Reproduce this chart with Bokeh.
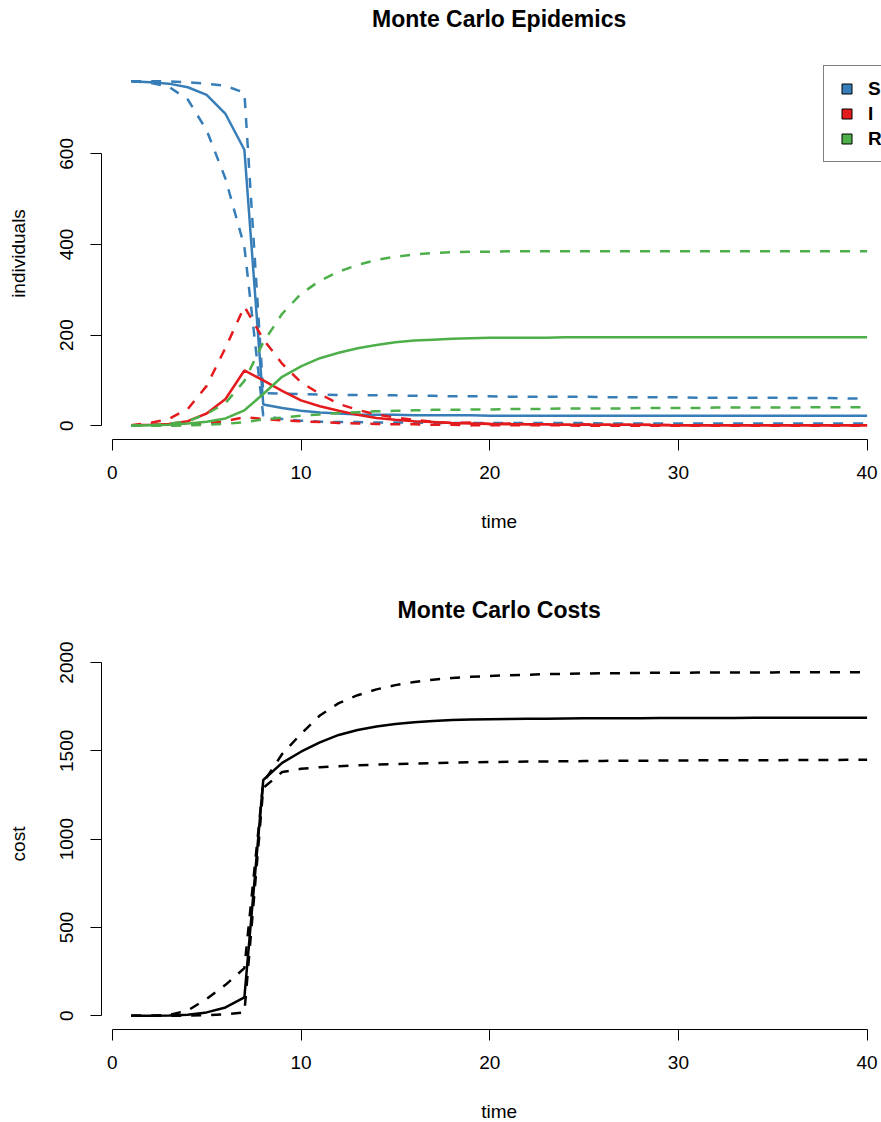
import math
from bokeh.plotting import figure
from bokeh.models import Range1d, FixedTicker, Label, Legend, LegendItem
from bokeh.layouts import column
from bokeh.embed import file_html
from bokeh.resources import INLINE

# ---------------- data ----------------
time = list(range(1, 41))

# Susceptible: median, upper and lower quantile
S_med = [760, 758, 755, 747, 730, 688, 609, 47, 39, 33, 29, 27, 25, 24, 24, 23, 23, 23, 23, 22,
         22, 22, 22, 22, 22, 22, 22, 22, 22, 22, 22, 22, 22, 22, 22, 22, 22, 22, 22, 22]
S_hi = [760, 760, 760, 758, 755, 750, 735, 72, 71, 70, 69, 68, 68, 67, 67, 66, 66, 65, 65, 65,
        64, 64, 64, 64, 64, 63, 63, 63, 63, 63, 62, 62, 62, 62, 62, 61, 61, 61, 60, 60]
S_lo = [760, 757, 748, 720, 652, 545, 395, 22, 15, 11, 9, 8, 8, 7, 7, 7, 6, 6, 6, 6,
        6, 6, 6, 6, 6, 5, 5, 5, 5, 5, 5, 5, 5, 5, 5, 5, 5, 5, 5, 5]

# Infected
I_med = [1, 2, 4, 10, 27, 59, 122, 100, 77, 56, 43, 33, 24, 17, 13, 10, 8, 6, 5, 4,
         3, 3, 3, 2, 2, 2, 2, 2, 1, 1, 1, 1, 1, 1, 1, 1, 1, 1, 1, 1]
I_hi = [1, 6, 15, 37, 88, 172, 263, 191, 137, 96, 70, 48, 35, 25, 18, 13, 9, 6, 7, 4,
        5, 3, 3, 2, 3, 2, 2, 2, 2, 1, 1, 1, 1, 1, 1, 1, 1, 1, 1, 1]
I_lo = [0, 0, 1, 2, 5, 10, 19, 15, 12, 10, 8, 6, 5, 4, 3, 3, 2, 2, 1, 1,
        1, 1, 1, 1, 0, 0, 0, 0, 0, 0, 0, 0, 0, 0, 0, 0, 0, 0, 0, 0]

# Recovered
R_med = [0, 1, 2, 5, 9, 16, 34, 70, 108, 131, 149, 161, 171, 178, 184, 188, 190, 192, 193, 194,
         194, 194, 194, 195, 195, 195, 195, 195, 195, 195, 195, 195, 195, 195, 195, 195, 195, 195, 195, 195]
R_hi = [0, 1, 4, 10, 26, 50, 99, 184, 247, 291, 320, 340, 355, 366, 373, 378, 381, 383, 384, 384,
        385, 385, 385, 385, 385, 385, 385, 385, 385, 385, 385, 385, 385, 385, 385, 385, 385, 385, 385, 385]
R_lo = [0, 0, 0, 1, 2, 4, 8, 14, 18, 22, 25, 28, 30, 32, 33, 34, 35, 35, 36, 36,
        37, 37, 37, 38, 38, 38, 38, 39, 39, 39, 39, 40, 40, 40, 40, 40, 41, 41, 41, 41]

# Costs
C_med = [0, 0, 1, 6, 19, 47, 104, 1335, 1432, 1495, 1548, 1590, 1618, 1638, 1652, 1662, 1669, 1674, 1677, 1679,
         1680, 1681, 1682, 1683, 1684, 1685, 1685, 1685, 1686, 1686, 1686, 1686, 1686, 1687, 1687, 1687, 1687, 1687, 1687, 1687]
C_hi = [0, 0, 4, 30, 95, 175, 270, 1320, 1482, 1596, 1700, 1770, 1815, 1848, 1872, 1890, 1903, 1912, 1919, 1924,
        1928, 1931, 1934, 1936, 1938, 1939, 1940, 1941, 1942, 1942, 1943, 1943, 1944, 1944, 1944, 1945, 1945, 1945, 1945, 1945]
C_lo = [0, 0, 0, 1, 3, 9, 19, 1290, 1380, 1398, 1407, 1413, 1418, 1422, 1425, 1428, 1431, 1433, 1435, 1437,
        1438, 1439, 1440, 1441, 1442, 1443, 1444, 1444, 1445, 1445, 1446, 1446, 1447, 1447, 1447, 1448, 1448, 1448, 1449, 1449]

x_ticks = [0, 10, 20, 30, 40]
epi_ticks = [0, 200, 400, 600]
cost_ticks = [0, 500, 1000, 1500, 2000]
legend_labels = ["S", "I", "R"]

# ---------------- style / layout ----------------
BLUE, RED, GREEN = "#377EB8", "#E41A1C", "#4DAF4A"
FONT = "Liberation Sans"
FS = "19px"
LW = 2.5
DASH = "10 10"
W = 881
H = 561
PX0, PXU = 111.8, 18.87          # pixel of time 0, pixels per time unit
X_LO, X_HI = -0.56, 41.56        # plot region in data units (R style 4% padding)
X_MID = (X_LO + X_HI) / 2


def y_range(lo, hi, py_lo, py_hi, top, bottom):
    k = (py_lo - py_hi) / (hi - lo)
    return Range1d(lo - (bottom - py_lo) / k, hi + (py_hi - top) / k)


def make_fig(yr, y_lo, yticks, ybounds):
    p = figure(width=W, height=H,
               x_range=Range1d((0 - PX0) / PXU, (W - PX0) / PXU), y_range=yr,
               output_backend="svg", toolbar_location=None,
               min_border_left=0, min_border_right=0,
               min_border_top=0, min_border_bottom=0)
    p.outline_line_color = None
    p.background_fill_color = "white"
    p.border_fill_color = "white"
    p.xgrid.visible = False
    p.ygrid.visible = False
    for ax in (p.xaxis[0], p.yaxis[0]):
        ax.axis_line_color = "black"
        ax.axis_line_width = 1
        ax.major_tick_line_color = "black"
        ax.major_tick_out = 11
        ax.major_tick_in = 0
        ax.minor_tick_line_color = None
        ax.major_label_text_font = FONT
        ax.major_label_text_font_size = FS
        ax.major_label_text_color = "black"
    p.xaxis[0].bounds = (0, 40)
    p.xaxis[0].ticker = FixedTicker(ticks=x_ticks)
    p.xaxis[0].major_label_standoff = 15
    p.xaxis[0].fixed_location = y_lo
    p.yaxis[0].bounds = ybounds
    p.yaxis[0].ticker = FixedTicker(ticks=yticks)
    p.yaxis[0].major_label_orientation = "vertical"
    p.yaxis[0].major_label_standoff = 18
    p.yaxis[0].fixed_location = X_LO
    return p


def add_texts(p, title, ylab, title_y, time_y, ylab_y):
    p.add_layout(Label(x=X_MID, y=title_y, x_units="data", y_units="screen",
                       text=title, text_align="center", text_baseline="alphabetic",
                       text_font=FONT, text_font_size="23px", text_font_style="bold",
                       text_color="black"))
    p.add_layout(Label(x=X_MID, y=time_y, x_units="data", y_units="screen",
                       text="time", text_align="center", text_baseline="alphabetic",
                       text_font=FONT, text_font_size=FS, text_color="black"))
    p.add_layout(Label(x=17.5, y=ylab_y, x_units="screen", y_units="screen",
                       text=ylab, angle=math.pi / 2, text_align="center",
                       text_baseline="alphabetic",
                       text_font=FONT, text_font_size=FS, text_color="black"))


# ---------------- epidemics ----------------
p1 = make_fig(y_range(-30.4, 790.6, 439, 67, 0, H), -30.4, epi_ticks, (0, 600))
for med, hi, lo, col in ((S_med, S_hi, S_lo, BLUE), (I_med, I_hi, I_lo, RED), (R_med, R_hi, R_lo, GREEN)):
    p1.line(time, med, line_color=col, line_width=LW)
    p1.line(time, hi, line_color=col, line_width=LW, line_dash=DASH)
    p1.line(time, lo, line_color=col, line_width=LW, line_dash=DASH)
add_texts(p1, "Monte Carlo Epidemics", "individuals", H - 18, H - 521, H - 253)

items = []
for lab, col in zip(legend_labels, (BLUE, RED, GREEN)):
    # legend key only: a NaN point draws nothing in the plot area
    r = p1.scatter(x=[float("nan")], y=[float("nan")], marker="square", size=10,
                   fill_color=col, line_color="black", line_width=1)
    items.append(LegendItem(label=lab, renderers=[r]))
leg = Legend(items=items, location=(823, H - 162), padding=10, spacing=0,
             glyph_width=25, glyph_height=25, label_height=20, label_standoff=9,
             label_text_font=FONT, label_text_font_size=FS, label_text_font_style="bold",
             label_text_color="black", border_line_color="black", border_line_width=1,
             background_fill_color="white", background_fill_alpha=1.0, margin=0)
p1.add_layout(leg, "center")

# ---------------- costs ----------------
p2 = make_fig(y_range(-77.8, 2022.8, 1029, 658, 561, 561 + H), -77.8, cost_ticks, (0, 2000))
p2.line(time, C_med, line_color="black", line_width=LW)
p2.line(time, C_hi, line_color="black", line_width=LW, line_dash=DASH)
p2.line(time, C_lo, line_color="black", line_width=LW, line_dash=DASH)
add_texts(p2, "Monte Carlo Costs", "cost", (561 + H) - 609.7, (561 + H) - 1111, (561 + H) - 843.5)

layout = column(p1, p2, spacing=0)
open("out.html", "w").write(file_html(layout, INLINE))
